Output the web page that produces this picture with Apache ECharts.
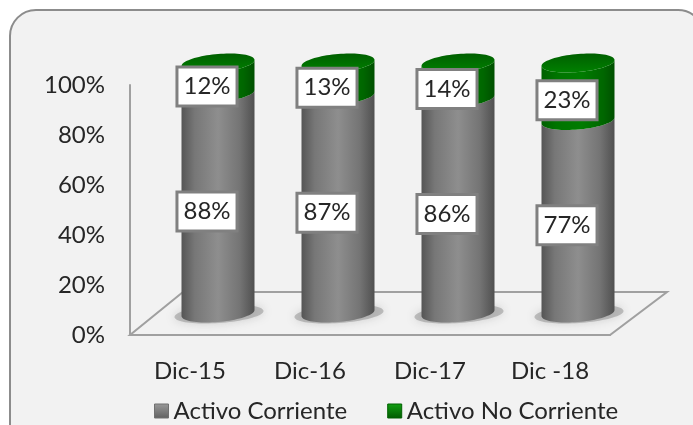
<!DOCTYPE html>
<html>
<head>
<meta charset="utf-8">
<style>
  html, body { margin: 0; padding: 0; background: #fff; }
  #visualisation { width: 693px; height: 425px; }
</style>
<script src="https://cdn.jsdelivr.net/npm/echarts@6/dist/echarts.min.js"></script>
</head>
<body>
<div id="visualisation"></div>
<script>
const categories = ['Dic-15', 'Dic-16', 'Dic-17', 'Dic -18'];
const corriente = [88, 87, 86, 77];
const noCorriente = [12, 13, 14, 23];
const tickLabels = [0, 20, 40, 60, 80, 100];

const font = 'Lato, "Noto Sans", sans-serif';

// bars stand halfway into the floor
const depthX = 28, depthY = -22;
const floorX = 53, floorY = -43;
const halfWidth = 36.5, ry = 9, tilt = 3;
const labelX = 17, labelY = -13.5;

function hGradient(stops) {
  return new echarts.graphic.LinearGradient(0, 0, 1, 0,
    stops.map((c, i) => ({ offset: c[0], color: c[1] })));
}
const greyFill = hGradient([[0, '#555'], [0.18, '#777'], [0.5, '#8e8e8e'], [0.8, '#747474'], [1, '#505050']]);
const greenFill = hGradient([[0, '#006000'], [0.2, '#007400'], [0.55, '#007c00'], [0.85, '#006600'], [1, '#005000']]);
const greenTop = new echarts.graphic.LinearGradient(0, 0, 0, 1, [
  { offset: 0, color: '#005f00' }, { offset: 1, color: '#008000' }
]);

// point on the rim of a slightly tilted ellipse
function rim(cx, cy, rx, a) {
  return [cx + rx * Math.cos(a), cy + ry * Math.sin(a) - tilt * Math.cos(a)];
}

function body(cx, yTop, yBottom) {
  let pts = [];
  for (let i = 0; i <= 40; i++) pts.push(rim(cx, yBottom, halfWidth, Math.PI - Math.PI * i / 40));
  for (let i = 0; i <= 40; i++) pts.push(rim(cx, yTop, halfWidth, Math.PI * i / 40));
  return pts;
}

function disc(cx, cy, rx) {
  let pts = [];
  for (let i = 0; i < 80; i++) pts.push(rim(cx, cy, rx, 2 * Math.PI * i / 80));
  return pts;
}

function valueLabel(x, y, text) {
  return {
    type: 'text',
    z2: 50,
    style: {
      x: x, y: y, text: text,
      align: 'center', verticalAlign: 'middle',
      font: '24px ' + font, fill: '#262626',
      backgroundColor: '#fff', borderColor: '#808080', borderWidth: 3,
      padding: [6, 5, 6, 5]
    }
  };
}

function renderStack(fill, isTop) {
  return function (params, api) {
    const base = api.coord([api.value(0), api.value(1)]);
    const top = api.coord([api.value(0), api.value(2)]);
    const cx = base[0] + depthX;
    const yBase = base[1] + depthY;
    const yTop = top[1] + depthY;
    const children = [];
    if (!isTop) {
      children.push({
        type: 'polygon',
        shape: { points: disc(cx + 1, yBase + 1, halfWidth + 8) },
        style: { fill: 'rgba(130,130,130,0.45)', shadowBlur: 10, shadowColor: 'rgba(130,130,130,0.7)' }
      });
    }
    children.push({ type: 'polygon', shape: { points: body(cx, yTop, yBase) }, style: { fill: fill } });
    if (isTop) {
      children.push({ type: 'polygon', shape: { points: disc(cx, yTop, halfWidth) }, style: { fill: greenTop } });
    }
    const mid = api.coord([api.value(0), (api.value(1) + api.value(2)) / 2]);
    children.push(valueLabel(mid[0] + labelX, mid[1] + labelY, api.value(3) + '%'));
    return { type: 'group', children: children };
  };
}

function renderFloor(params) {
  const g = params.coordSys;
  const x0 = g.x, x1 = g.x + g.width, y0 = g.y + g.height;
  return {
    type: 'polygon',
    shape: { points: [[x0, y0], [x1, y0], [x1 + floorX + 4, y0 + floorY], [x0 + floorX, y0 + floorY]] },
    style: { fill: 'none', stroke: '#a0a0a0', lineWidth: 2 }
  };
}

function stackData(values, below) {
  return values.map((v, i) => [i, below[i], below[i] + v, v]);
}

function legendIcon(light, dark) {
  return new echarts.graphic.LinearGradient(0, 0, 0, 1, [
    { offset: 0, color: light }, { offset: 1, color: dark }
  ]);
}

let visualisation = echarts.init(document.getElementById('visualisation'));

let option = {
  animation: false,
  backgroundColor: '#fff',
  graphic: [{
    type: 'rect', z: -10,
    shape: { x: 10, y: 10, width: 694, height: 440, r: 26 },
    style: { fill: '#f2f2f2', stroke: '#8c8c8c', lineWidth: 2 }
  }],
  grid: { left: 130, right: 83, top: 85, bottom: 90 },
  xAxis: {
    type: 'category',
    data: categories,
    axisTick: { show: false },
    axisLine: { lineStyle: { color: '#a0a0a0', width: 2 } },
    axisLabel: { margin: 24, fontFamily: font, fontSize: 24, color: '#262626' }
  },
  yAxis: {
    type: 'value',
    min: tickLabels[0],
    max: tickLabels[tickLabels.length - 1],
    interval: 20,
    splitLine: { show: false },
    axisTick: { show: false },
    axisLine: { show: true, lineStyle: { color: '#a0a0a0', width: 2 } },
    axisLabel: { margin: 25, fontFamily: font, fontSize: 24, color: '#262626', formatter: '{value}%', verticalAlignMinLabel: 'middle' }
  },
  legend: {
    left: 149, top: 394,
    itemWidth: 14, itemHeight: 14, itemGap: 40,
    icon: 'rect',
    textStyle: { fontFamily: font, fontSize: 24, color: '#262626' },
    data: [
      { name: 'Activo Corriente', itemStyle: { color: legendIcon('#9a9a9a', '#606060'), borderColor: '#707070', borderWidth: 1 } },
      { name: 'Activo No Corriente', itemStyle: { color: legendIcon('#12a012', '#005a00'), borderColor: '#006000', borderWidth: 1 } }
    ]
  },
  series: [
    { type: 'custom', name: 'floor', renderItem: renderFloor, data: [0], silent: true, z: 1 },
    { type: 'custom', name: 'Activo Corriente', renderItem: renderStack(greyFill, false), data: stackData(corriente, [0, 0, 0, 0]), z: 2 },
    { type: 'custom', name: 'Activo No Corriente', renderItem: renderStack(greenFill, true), data: stackData(noCorriente, corriente), z: 3 }
  ]
};

visualisation.setOption(option);
</script>
</body>
</html>
